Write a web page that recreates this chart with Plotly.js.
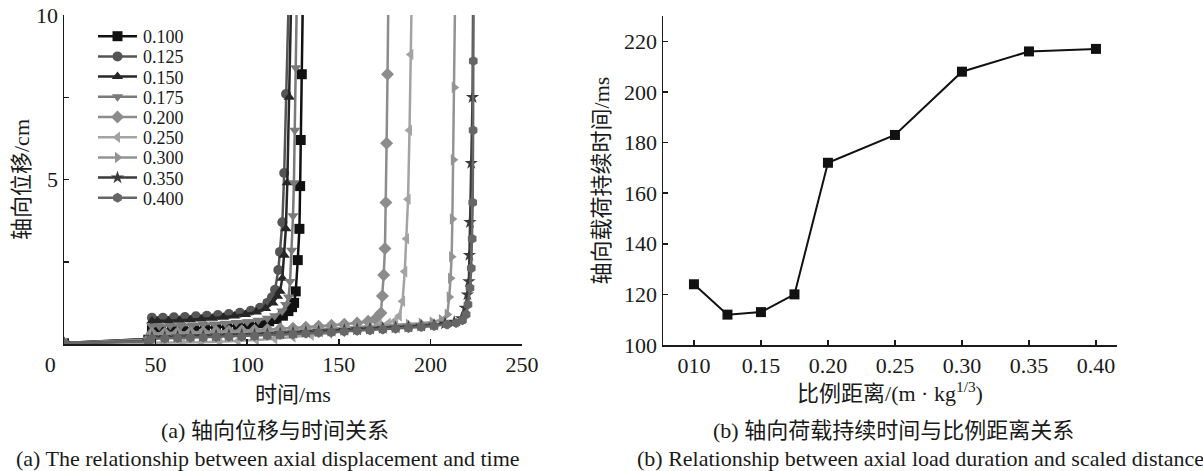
<!DOCTYPE html>
<html>
<head>
<meta charset="utf-8">
<script src="https://cdn.plot.ly/plotly-3.0.1.min.js"></script>
<style>
html,body{margin:0;padding:0;background:#fff;}
#chart{width:1203px;height:471px;}
</style>
</head>
<body>
<div id="chart"></div>
<script>
// ---------- Data: (a) axial displacement vs time ----------
var seriesNames = ['0.100','0.125','0.150','0.175','0.200','0.250','0.300','0.350','0.400'];

var t100 = [0, 46, 48, 53, 59, 65, 71, 77, 83, 89, 95, 101, 107, 112, 116, 119.5, 122.5, 124.5, 125.6, 126.5, 127.6, 128.5, 128.9, 129.2, 129.8, 130.3];
var d100 = [0.02, 0.13, 0.42, 0.43, 0.44, 0.46, 0.47, 0.49, 0.51, 0.53, 0.56, 0.59, 0.63, 0.69, 0.76, 0.86, 1.0, 1.12, 1.25, 1.6, 2.55, 3.5, 4.8, 6.2, 8.2, 10.2];

var t125 = [0, 46, 48, 54, 60, 66, 72, 78, 84, 90, 96, 102, 107, 111, 113.5, 115.2, 117, 117.9, 119.2, 120.2, 121.2, 122.5];
var d125 = [0.03, 0.15, 0.8, 0.8, 0.81, 0.82, 0.84, 0.86, 0.88, 0.91, 0.95, 1.01, 1.1, 1.25, 1.42, 1.65, 2.25, 2.8, 3.7, 5.2, 7.6, 10.2];

var t150 = [0, 46, 48, 51, 57, 63, 69, 75, 81, 87, 93, 99, 105, 110, 114, 116.5, 117.9, 119.2, 120.2, 121.1, 121.9, 123, 123.9];
var d150 = [0.03, 0.15, 0.7, 0.7, 0.71, 0.72, 0.74, 0.76, 0.78, 0.81, 0.85, 0.9, 0.97, 1.08, 1.25, 1.45, 1.6, 2.0, 2.7, 3.5, 4.9, 7.5, 10.2];

var t175 = [0, 46, 48, 52, 58, 64, 70, 76, 82, 88, 94, 100, 106, 111, 115, 119, 121, 122.6, 123.4, 124.3, 125, 125.5, 126, 126.5, 127];
var d175 = [0.02, 0.14, 0.55, 0.55, 0.56, 0.57, 0.58, 0.6, 0.61, 0.63, 0.65, 0.68, 0.72, 0.78, 0.86, 1.0, 1.2, 1.43, 1.9, 2.85, 3.9, 4.9, 6.5, 8.4, 10.2];

var t200 = [0, 46, 48, 55, 62, 69, 76, 83, 90, 97, 104, 111, 118, 125, 132, 139, 146, 153, 160, 166, 170, 173, 173.8, 174.5, 175.2, 175.7, 176.1, 176.6, 177];
var d200 = [0.03, 0.12, 0.32, 0.33, 0.34, 0.35, 0.36, 0.38, 0.39, 0.4, 0.42, 0.44, 0.46, 0.48, 0.51, 0.54, 0.57, 0.6, 0.64, 0.69, 0.76, 0.94, 1.46, 2.1, 2.9, 4.3, 6.1, 8.2, 10.2];

var t250 = [0, 46, 55, 65, 75, 85, 95, 105, 115, 125, 135, 145, 152, 159, 166, 172, 177, 181, 183, 184.8, 186, 187, 187.8, 188.6, 189.3, 189.7];
var d250 = [0.02, 0.03, 0.03, 0.04, 0.05, 0.07, 0.09, 0.12, 0.16, 0.21, 0.27, 0.33, 0.38, 0.44, 0.5, 0.56, 0.63, 0.72, 0.85, 1.3, 2.2, 3.2, 4.4, 6.5, 8.8, 10.2];

var t300 = [0, 46, 48, 55, 62, 69, 76, 83, 90, 97, 104, 111, 118, 125, 132, 139, 146, 153, 160, 167, 174, 181, 188, 195, 201, 206, 209.2, 210.3, 211, 211.6, 212, 212.5, 213, 213.4];
var d300 = [0.02, 0.1, 0.26, 0.27, 0.28, 0.29, 0.3, 0.31, 0.32, 0.33, 0.35, 0.37, 0.39, 0.41, 0.43, 0.45, 0.47, 0.49, 0.51, 0.53, 0.55, 0.57, 0.6, 0.63, 0.67, 0.74, 0.9, 1.43, 2.0, 2.65, 3.8, 5.6, 7.8, 10.2];

var t350 = [0, 46, 48, 55, 62, 69, 76, 83, 90, 97, 104, 111, 118, 125, 132, 139, 146, 153, 160, 167, 174, 181, 188, 195, 202, 208, 213, 217, 219, 220.2, 221, 221.3, 221.6, 222.3, 223, 223.3];
var d350 = [0.02, 0.09, 0.2, 0.21, 0.22, 0.23, 0.24, 0.25, 0.26, 0.27, 0.28, 0.3, 0.32, 0.34, 0.36, 0.38, 0.4, 0.42, 0.44, 0.46, 0.48, 0.5, 0.52, 0.55, 0.58, 0.62, 0.67, 0.78, 1.1, 1.5, 1.9, 2.7, 3.7, 5.5, 7.5, 10.2];

var t400 = [0, 46, 48, 55, 62, 69, 76, 83, 90, 97, 104, 111, 118, 125, 132, 139, 146, 153, 160, 167, 174, 181, 188, 195, 202, 209, 214, 217.5, 219.5, 220.5, 221.6, 222.3, 222.8, 223.1, 223.3, 223.4, 223.5];
var d400 = [0.02, 0.08, 0.16, 0.17, 0.18, 0.19, 0.2, 0.21, 0.22, 0.23, 0.24, 0.26, 0.28, 0.3, 0.32, 0.34, 0.36, 0.38, 0.4, 0.42, 0.44, 0.46, 0.49, 0.52, 0.55, 0.59, 0.64, 0.72, 0.9, 1.2, 1.7, 2.3, 3.2, 4.3, 6.5, 8.6, 10.2];

var timesA = [t100, t125, t150, t175, t200, t250, t300, t350, t400];
var dispA  = [d100, d125, d150, d175, d200, d250, d300, d350, d400];
var aTickVals = [0, 50, 100, 150, 200, 250];
var aTickText = ['0\u00a0\u00a0\u00a0\u00a0\u00a0', '50', '100', '150', '200', '250'];
var aYTickVals = [5, 10];
var aYMinorTick = 2.5;

// ---------- Data: (b) axial load duration vs scaled distance ----------
var scaledDist = [0.100, 0.125, 0.150, 0.175, 0.200, 0.250, 0.300, 0.350, 0.400];
var duration   = [124, 112, 113, 120, 172, 183, 208, 216, 217];
var bTickVals  = [0.10, 0.15, 0.20, 0.25, 0.30, 0.35, 0.40];
var bTickText  = ['010', '0.15', '0.20', '0.25', '0.30', '0.35', '0.40'];
var bYTickVals = [100, 120, 140, 160, 180, 200, 220];

// ---------- Styles ----------
var colorsA  = ['#111111', '#555555', '#262626', '#7a7a7a', '#8c8c8c', '#a3a3a3', '#939393', '#3a3a3a', '#666666'];
var symbolsA = ['square', 'circle', 'triangle-up', 'triangle-down', 'diamond', 'triangle-left', 'triangle-right', 'star', 'hexagon'];

var FONT = 'Liberation Serif, Noto Sans CJK SC, serif';
var INK = '#1a1a1a';

var traces = [];
for (var i = 0; i < seriesNames.length; i++) {
  traces.push({
    type: 'scatter', mode: 'lines+markers',
    x: timesA[i], y: dispA[i], name: seriesNames[i],
    xaxis: 'x', yaxis: 'y',
    line: {color: colorsA[i], width: 2.5},
    marker: {symbol: symbolsA[i], color: colorsA[i], size: 10, line: {width: 0}}
  });
}
traces.push({
  type: 'scatter', mode: 'lines+markers',
  x: scaledDist, y: duration, xaxis: 'x2', yaxis: 'y2', showlegend: false,
  line: {color: '#111111', width: 2},
  marker: {symbol: 'square', color: '#111111', size: 10}
});

var W = 1203, H = 471;
function px(x) { return x / W; }
function py(y) { return (H - y) / H; }

var axCommon = {
  showgrid: false, zeroline: false, showline: true, linecolor: INK, linewidth: 1.5,
  ticks: 'inside', ticklen: 5, tickcolor: INK, tickwidth: 1.5,
  tickfont: {family: FONT, size: 22, color: INK},
  automargin: false, fixedrange: true
};
var titleFont = {family: FONT, size: 22, color: INK};
var capFont = {family: FONT, size: 22, color: INK};

var layout = {
  width: W, height: H,
  margin: {l: 0, r: 0, t: 0, b: 0},
  paper_bgcolor: '#ffffff', plot_bgcolor: '#ffffff',
  font: {family: FONT, color: INK},
  showlegend: true,
  legend: {
    x: px(93), y: py(18), xanchor: 'left', yanchor: 'top',
    bgcolor: 'rgba(0,0,0,0)', borderwidth: 0, itemwidth: 40,
    font: {family: FONT, size: 18, color: INK}
  },
  xaxis: Object.assign({}, axCommon, {
    domain: [px(64), px(522)], range: [0, 250], anchor: 'y',
    tickvals: aTickVals, ticktext: aTickText,
    title: {text: '时间/ms', font: titleFont, standoff: 10}
  }),
  yaxis: Object.assign({}, axCommon, {
    domain: [py(344), py(15)], range: [0, 10], anchor: 'x',
    tickvals: aYTickVals,
    minor: {tick0: 0, dtick: aYMinorTick, ticks: 'inside', ticklen: 5, tickcolor: INK, tickwidth: 1.5, showgrid: false},
    title: {text: '轴向位移/cm', font: titleFont, standoff: 0}
  }),
  xaxis2: Object.assign({}, axCommon, {
    domain: [px(663), px(1117)], range: [0.0769, 0.4157], anchor: 'y2',
    tickvals: bTickVals, ticktext: bTickText,
    title: {text: '比例距离/(m · kg<sup>1/3</sup>)', font: titleFont, standoff: 4}
  }),
  yaxis2: Object.assign({}, axCommon, {
    domain: [py(345), py(16)], range: [100, 230], anchor: 'x2',
    tickvals: bYTickVals,
    title: {text: '轴向载荷持续时间/ms', font: titleFont, standoff: 8}
  }),
  annotations: [
    {text: '(a) 轴向位移与时间关系', x: px(275), y: py(430), xref: 'paper', yref: 'paper', xanchor: 'center', yanchor: 'middle', showarrow: false, font: capFont},
    {text: '(a) The relationship between axial displacement and time', x: px(268), y: py(458), xref: 'paper', yref: 'paper', xanchor: 'center', yanchor: 'middle', showarrow: false, font: capFont},
    {text: '(b) 轴向荷载持续时间与比例距离关系', x: px(893), y: py(430), xref: 'paper', yref: 'paper', xanchor: 'center', yanchor: 'middle', showarrow: false, font: capFont},
    {text: '(b) Relationship between axial load duration and scaled distance', x: px(921), y: py(458), xref: 'paper', yref: 'paper', xanchor: 'center', yanchor: 'middle', showarrow: false, font: capFont}
  ]
};

Plotly.newPlot('chart', traces, layout, {staticPlot: true, displayModeBar: false}).then(function (gd) {
  // tighten legend row spacing and lengthen legend lines to match the reference
  var items = gd.querySelectorAll('.legend .traces');
  var y0 = null, x0 = 0, step = 20.2;
  items.forEach(function (el, i) {
    var tr = el.getAttribute('transform') || '';
    var m = /translate\(\s*([-\d.]+)[ ,]+([-\d.]+)\s*\)/.exec(tr);
    if (!m) return;
    if (y0 === null) { y0 = parseFloat(m[2]); x0 = parseFloat(m[1]); }
    el.setAttribute('transform', 'translate(' + x0 + ',' + (y0 + i * step) + ')');
    el.querySelectorAll('.legendlines path').forEach(function (p) { p.setAttribute('d', 'M5,0h39'); });
    el.querySelectorAll('.legendpoints path').forEach(function (p) {
      var t = p.getAttribute('transform') || '';
      p.setAttribute('transform', t.replace(/translate\(\s*[-\d.]+/, 'translate(24.5'));
    });
  });
});
</script>
</body>
</html>
